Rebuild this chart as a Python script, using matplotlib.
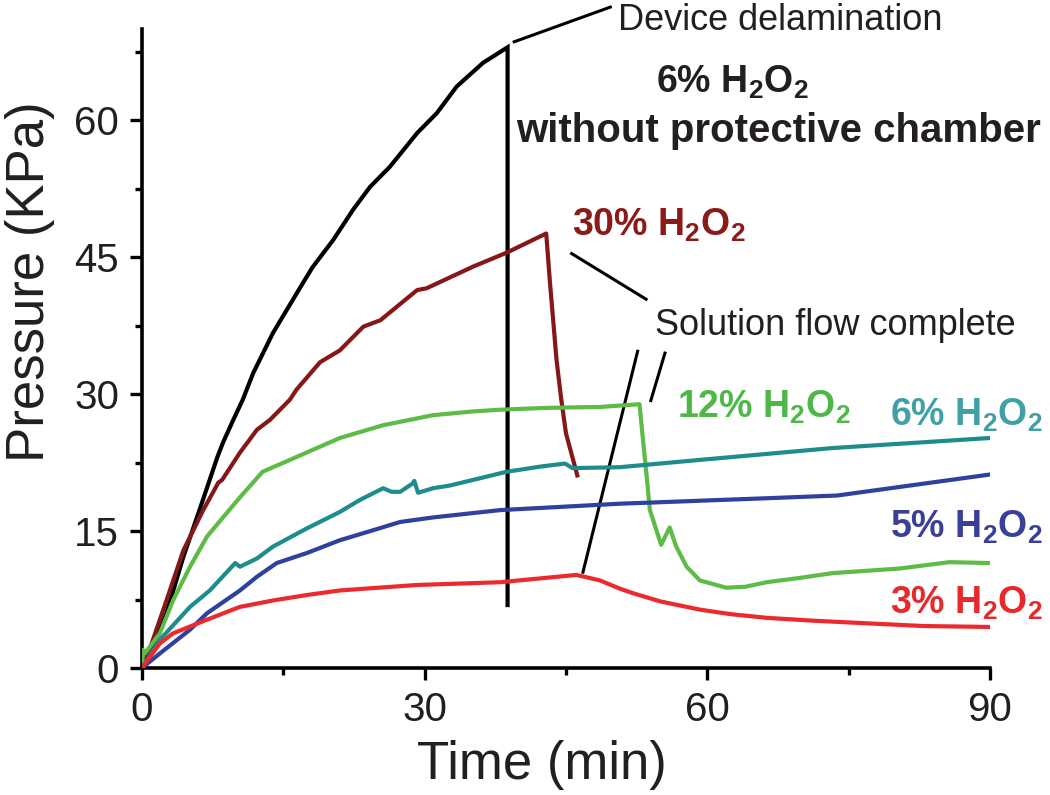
import matplotlib
matplotlib.use("Agg")
import matplotlib.pyplot as plt
from matplotlib.ticker import MultipleLocator

plt.rcParams['font.family'] = ['Liberation Sans', 'DejaVu Sans']
plt.rcParams['mathtext.fontset'] = 'custom'
plt.rcParams['mathtext.rm'] = 'Liberation Sans'
plt.rcParams['mathtext.bf'] = 'Liberation Sans:bold'

# ---------------- data ----------------
black_t = [0, 0.5, 2.6, 4.4, 6.2, 8.0, 8.6, 9.7, 10.7, 11.8, 13.9, 16.8, 18.1, 20.3, 22.4,
           24.2, 26.3, 29.2, 31.3, 33.4, 36.2, 38.8, 38.8]
black_p = [0, 0.5, 6.0, 12.2, 17.6, 23.1, 24.7, 27.2, 29.4, 32.3, 36.7, 41.7, 43.9, 46.9, 50.2,
           52.7, 54.9, 58.6, 60.8, 63.7, 66.3, 68.0, 6.9]

dred_t = [0, 0.8, 2.6, 4.4, 6.5, 8.1, 8.5, 10.4, 12.2, 13.6, 15.7, 16.4, 18.9, 21.0, 23.5,
          25.3, 29.2, 30.2, 35.2, 38.7, 42.9, 43.3, 44.0, 44.5, 45.0, 46.2]
dred_p = [0, 2.0, 7.4, 12.9, 17.3, 20.3, 20.6, 23.6, 26.1, 27.2, 29.4, 30.5, 33.5, 34.8, 37.4,
          38.1, 41.4, 41.6, 44.0, 45.5, 47.6, 42.2, 33.7, 29.4, 25.7, 21.1]

green_t = [0, 0.1, 0.3, 1.9, 3.3, 5.1, 6.9, 8.6, 10.4, 12.8, 15.7, 21.0, 25.6, 30.9, 35.0,
           38.0, 43.0, 48.6, 52.8, 53.1, 53.6, 53.9, 55.1, 56.0, 56.7, 57.8, 59.2, 62.0,
           64.0, 66.3, 70.0, 73.3, 80.4, 85.7, 90]
green_p = [0, 2.0, 1.6, 3.8, 7.4, 11.1, 14.4, 16.5, 18.7, 21.5, 22.8, 25.2, 26.6, 27.7, 28.1,
           28.3, 28.5, 28.6, 28.9, 25.7, 20.6, 17.3, 13.5, 15.4, 13.3, 11.1, 9.6, 8.8,
           8.9, 9.4, 9.9, 10.4, 10.9, 11.6, 11.5]

teal_t = [0, 1.9, 5.1, 7.2, 9.9, 10.4, 12.2, 13.9, 17.5, 21.0, 23.1, 25.6, 26.5, 27.4, 28.7,
          28.9, 29.3, 30.9, 32.7, 38.7, 42.5, 44.9, 45.7, 50.7, 59.2, 73.3, 90]
teal_p = [0, 3.1, 6.7, 8.5, 11.5, 11.1, 12.0, 13.3, 15.3, 17.1, 18.4, 19.7, 19.3, 19.3, 20.2,
          20.5, 19.2, 19.7, 20.0, 21.5, 22.1, 22.4, 21.9, 22.0, 22.8, 24.1, 25.2]

blue_t = [0, 1.9, 5.1, 6.9, 10.4, 12.2, 14.3, 17.5, 21.0, 23.9, 27.4, 30.9, 38.0, 50.7,
          66.3, 73.8, 90]
blue_p = [0, 1.6, 4.2, 6.0, 8.5, 10.0, 11.5, 12.6, 14.0, 14.9, 16.0, 16.5, 17.3, 18.0,
          18.6, 18.9, 21.2]

red_t = [0, 1.9, 3.3, 6.9, 10.4, 13.9, 17.5, 21.0, 29.2, 38.0, 46.1, 48.6, 50.7, 52.1,
         55.0, 59.2, 62.5, 66.3, 71.0, 76.9, 83.0, 90]
red_p = [0, 2.7, 3.8, 5.3, 6.7, 7.4, 8.0, 8.5, 9.1, 9.4, 10.2, 9.6, 8.7, 8.2,
         7.3, 6.4, 5.9, 5.5, 5.2, 4.9, 4.6, 4.5]

x_ticks = [0, 30, 60, 90]
y_ticks = [0, 15, 30, 45, 60]

# ---------------- figure ----------------
fig = plt.figure(figsize=(10.5, 7.95), dpi=100)
ax = fig.add_axes([0.1352, 0.1597, 0.8077, 0.8038])

lw = 3.0
ax.plot(black_t, black_p, color='#000000', lw=lw, solid_joinstyle='miter', zorder=3)
ax.plot(dred_t, dred_p, color='#861719', lw=lw, zorder=3)
ax.plot(green_t, green_p, color='#5DBB46', lw=lw, zorder=3)
ax.plot(teal_t, teal_p, color='#1E8C8C', lw=lw, zorder=3)
ax.plot(blue_t, blue_p, color='#2E40A0', lw=lw, zorder=3)
ax.plot(red_t, red_p, color='#EC2A2E', lw=lw, zorder=3)

ax.set_xlim(0, 90)
ax.set_ylim(0, 70)
ax.set_xticks(x_ticks)
ax.set_yticks(y_ticks)
ax.xaxis.set_minor_locator(MultipleLocator(15))
ax.yaxis.set_minor_locator(MultipleLocator(7.5))
ax.tick_params(which='major', direction='out', length=8.5, width=2.4, labelsize=29, pad=8)
ax.tick_params(which='minor', direction='out', length=5, width=2.4)
for s in ['top', 'right']:
    ax.spines[s].set_visible(False)
for s in ['left', 'bottom']:
    ax.spines[s].set_linewidth(2.6)

fig.text(30 / 1050, 1 - 282 / 795, 'Pressure (KPa)', rotation=90, fontsize=38,
         ha='center', va='center', color='#231F20')
fig.text(542 / 1050, 1 - 765 / 795, 'Time (min)', fontsize=38,
         ha='center', va='center', color='#231F20')
for lab in ax.get_xticklabels() + ax.get_yticklabels():
    lab.set_color('#231F20')

# ---------------- annotations ----------------
def sub(s):
    return s + ' H$_\\mathbf{2}$O$_\\mathbf{2}$'

fs = 27
ax.text(45.6, 47.4, sub('30%'), color='#8B1A1A', fontsize=fs, fontweight='bold', ha='left', va='baseline')
ax.text(56.8, 27.4, sub('12%'), color='#4DB848', fontsize=fs, fontweight='bold', ha='left', va='baseline')
ax.text(79.4, 26.6, sub('6%'), color='#40A0A5', fontsize=fs, fontweight='bold', ha='left', va='baseline')
ax.text(79.4, 14.3, sub('5%'), color='#3A3F9A', fontsize=fs, fontweight='bold', ha='left', va='baseline')
ax.text(79.4, 5.9, sub('3%'), color='#E8282B', fontsize=fs, fontweight='bold', ha='left', va='baseline')
ax.text(62.7, 63.0, sub('6%'), color='#231F20', fontsize=fs, fontweight='bold', ha='center', va='baseline')
ax.text(67.5, 57.6, 'without protective chamber', color='#231F20', fontsize=29,
        fontweight='bold', ha='center', va='baseline')
ax.text(54.4, 36.5, 'Solution flow complete', color='#231F20', fontsize=26, ha='left', va='baseline')
ax.text(50.5, 69.9, 'Device delamination', color='#231F20', fontsize=26, ha='left', va='baseline',
        clip_on=False)

lead_lw = 2.2
ax.plot([39.5, 49.7], [68.6, 72.4], color='black', lw=lead_lw, clip_on=False)
ax.plot([45.6, 53.5], [45.4, 40.4], color='black', lw=lead_lw)
ax.plot([52.6, 46.8], [34.7, 10.5], color='black', lw=lead_lw)
ax.plot([55.5, 54.0], [34.5, 29.3], color='black', lw=lead_lw)

fig.savefig('out.png', dpi=100)
